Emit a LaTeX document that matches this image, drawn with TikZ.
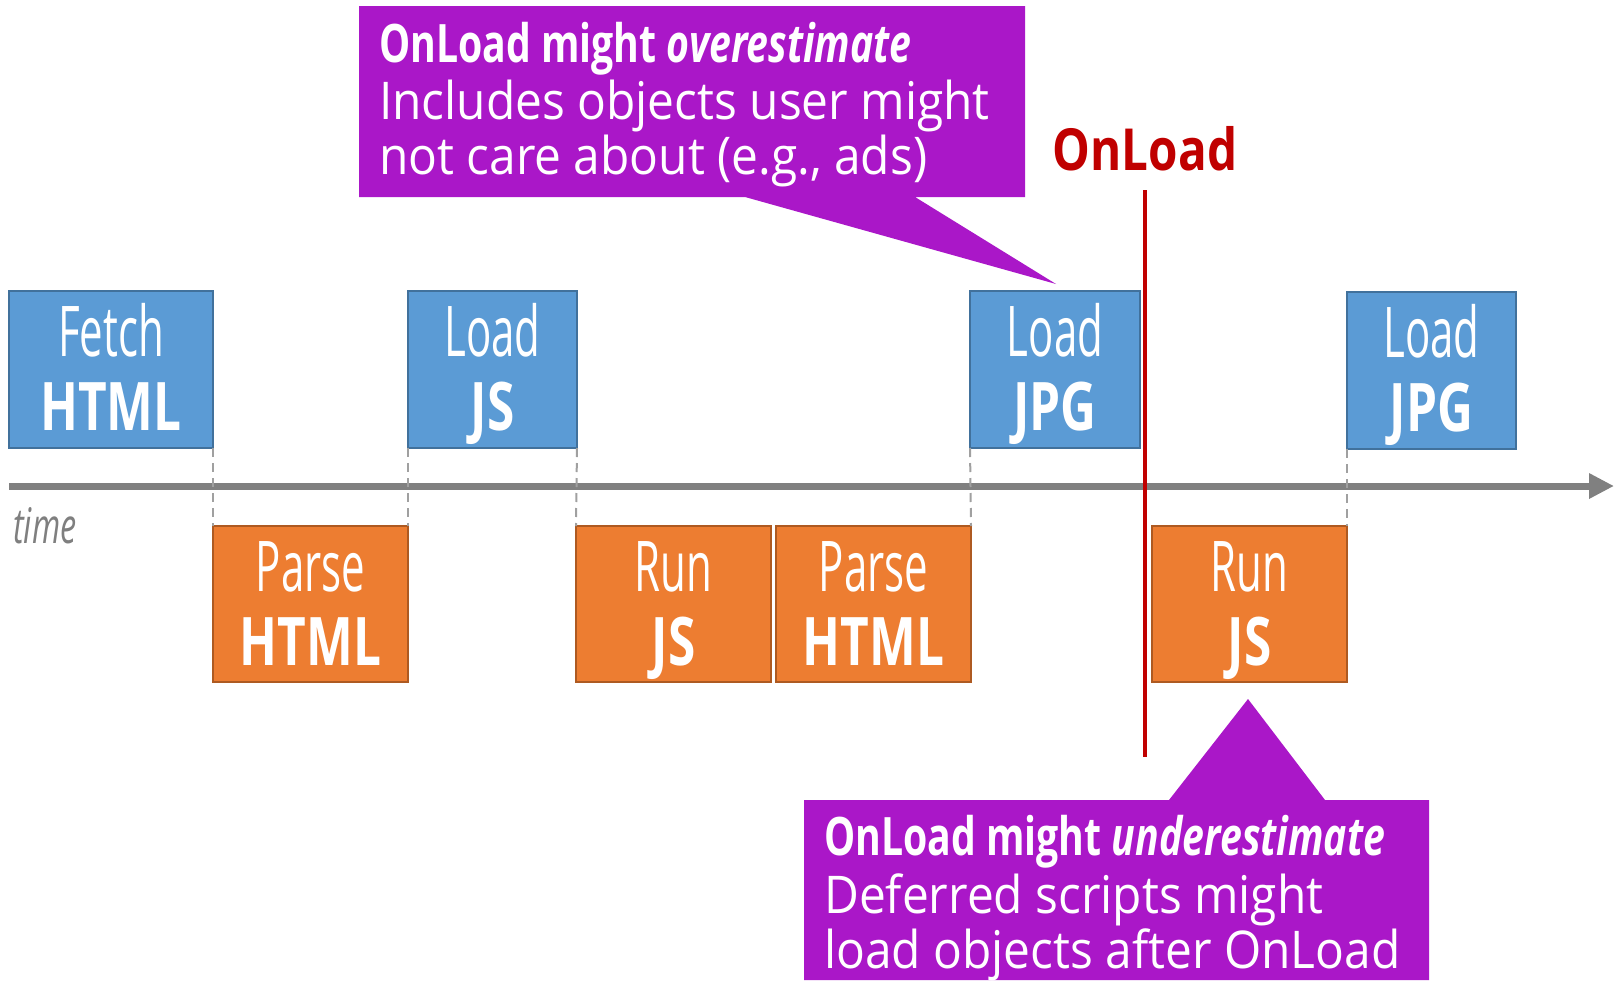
\documentclass[tikz,border=0pt]{standalone}
\usepackage{fontspec}
\setmainfont{Open Sans}
\newfontfamily\lightc[FakeStretch=0.6]{Open Sans}
\newfontfamily\boldc[FakeStretch=0.74]{Open Sans}
\newfontfamily\calb[FakeStretch=0.74]{Open Sans}
\newfontfamily\calr[FakeStretch=0.92]{Open Sans}
\newfontfamily\timef[FakeStretch=0.66]{Open Sans}
\newfontfamily\onlf[FakeStretch=0.82]{Open Sans}
\usetikzlibrary{arrows.meta,calc}
\definecolor{bfill}{HTML}{5B9BD5}
\definecolor{bline}{HTML}{41719C}
\definecolor{ofill}{HTML}{ED7D31}
\definecolor{oline}{HTML}{AE5A21}
\definecolor{purp}{HTML}{AA17C8}
\definecolor{onred}{HTML}{C00000}
\definecolor{axisgray}{HTML}{808080}
\definecolor{dashgray}{HTML}{A0A0A0}
\definecolor{timegray}{HTML}{7F7F7F}
\tikzset{
  taskbox/.style={rectangle, inner sep=0pt, outer sep=0pt, anchor=north west, line width=2.5pt, minimum height=157pt},
  bluebox/.style={taskbox, fill=bfill, draw=bline},
  orangebox/.style={taskbox, fill=ofill, draw=oline, minimum height=156pt},
  topword/.style={anchor=base, text=white, font=\lightc\fontsize{70}{70}\selectfont, inner sep=0pt},
  botword/.style={anchor=base, text=white, font=\boldc\bfseries\fontsize{67}{67}\selectfont, inner sep=0pt},
  guide/.style={draw=dashgray, line width=2pt, dash pattern=on 9pt off 6pt},
  callout/.style={fill=purp},
  calbold/.style={anchor=base west, text=white, inner sep=0pt, font=\calb\bfseries\fontsize{53}{53}\selectfont},
  calreg/.style={anchor=base west, text=white, inner sep=0pt, font=\calr\fontsize{52}{52}\selectfont},
}
\begin{document}
\begin{tikzpicture}[x=1pt,y=-1pt]
\useasboundingbox (0,0) rectangle (1616,980);
% timeline
\coordinate (t0) at (9,486);
\coordinate (t1) at (1614,486);
\draw[axisgray, line width=7pt, -{Triangle[length=25pt,width=24pt]}] (t0) -- (t1);
\node[anchor=base west, inner sep=0pt, text=timegray, font=\timef\itshape\fontsize{49}{49}\selectfont] (time) at (13,543) {time};
% blue boxes
\node[bluebox, minimum width=204pt] (fetch) at (9,291) {};
\node[bluebox, minimum width=169pt] (ljs) at (408,291) {};
\node[bluebox, minimum width=170pt] (jpg1) at (970,291) {};
\node[bluebox, minimum width=169pt] (jpg2) at (1347,292) {};
% orange boxes
\node[orangebox, minimum width=195pt] (parse1) at (213,526) {};
\node[orangebox, minimum width=195pt] (run1) at (576,526) {};
\node[orangebox, minimum width=195pt] (parse2) at (776,526) {};
\node[orangebox, minimum width=195pt] (run2) at (1152,526) {};
% guides
\draw[guide] (fetch.south east) -- (parse1.north west);
\draw[guide] (ljs.south west) -- (parse1.north east);
\draw[guide] (ljs.south east) -- (run1.north west);
\draw[guide] (jpg1.south west) -- (parse2.north east);
\draw[guide] (jpg2.south west) -- (run2.north east);
% labels
\foreach \b/\t/\w in {fetch/Fetch/HTML, ljs/Load/JS, jpg1/Load/JPG, jpg2/Load/JPG, parse1/Parse/HTML, run1/Run/JS, parse2/Parse/HTML, run2/Run/JS}{
  \node[topword] (\b-t) at ($(\b.north)+(0,65)$) {\t};
  \node[botword] (\b-b) at ($(\b.north)+(0,139)$) {\w};
}
% onload
\coordinate (ontop) at (1145,190);
\coordinate (onbot) at (1145,757);
\draw[onred, line width=4.5pt] (ontop) -- (onbot);
\node[anchor=base, inner sep=0pt, text=onred, font=\onlf\bfseries\fontsize{58}{58}\selectfont] (onl) at (1145,170) {OnLoad};
% callout 1
\fill[callout] (359,6) -- (1025,6) -- (1025,197) -- (915,197) -- (1056,284) -- (745,197) -- (359,197) -- cycle;
\node[calbold] (c1a) at (379,62) {OnLoad might \itshape overestimate};
\node[calreg] (c1b) at (379,119) {Includes objects user might};
\node[calreg] (c1c) at (379,174) {not care about (e.g., ads)};
% callout 2
\fill[callout] (804,800) -- (1169,800) -- (1248,699) -- (1325,800) -- (1429,800) -- (1429,980) -- (804,980) -- cycle;
\node[calbold] (c2a) at (824,855) {OnLoad might \itshape underestimate};
\node[calreg] (c2b) at (824,913) {Deferred scripts might};
\node[calreg] (c2c) at (824,968) {load objects after OnLoad};
\end{tikzpicture}
\end{document}
